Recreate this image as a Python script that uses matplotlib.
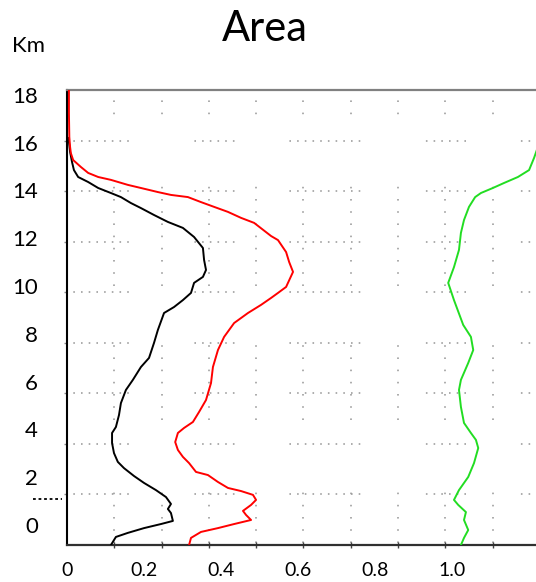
import numpy as np
import matplotlib.pyplot as plt
from matplotlib.ticker import FixedLocator

plt.rcParams['font.family'] = ['Lato', 'DejaVu Sans']
plt.rcParams['lines.scale_dashes'] = False

# ---- data (x = area fraction, y = height in km) ----
black_x = [0.114, 0.127, 0.158, 0.200, 0.244, 0.275, 0.270, 0.262, 0.270, 0.257,
           0.231, 0.200, 0.174, 0.148, 0.132, 0.122, 0.117, 0.117, 0.127, 0.135,
           0.140, 0.153, 0.171, 0.192, 0.213, 0.226, 0.236, 0.252, 0.278, 0.301,
           0.322, 0.330, 0.353, 0.361, 0.356, 0.353, 0.330, 0.301, 0.262, 0.226,
           0.192, 0.166, 0.140, 0.114, 0.081, 0.055, 0.029, 0.018, 0.013, 0.008,
           0.005, 0.003]
black_y = [-0.84, -0.50, -0.33, -0.13, 0.04, 0.17, 0.50, 0.67, 0.88, 1.17,
           1.46, 1.76, 2.05, 2.38, 2.64, 3.01, 3.43, 3.85, 4.10, 4.60,
           5.10, 5.65, 6.07, 6.61, 6.99, 7.62, 8.16, 8.87, 9.12, 9.41,
           9.71, 10.13, 10.38, 10.67, 11.09, 11.59, 12.05, 12.43, 12.68, 12.97,
           13.26, 13.47, 13.72, 13.89, 14.10, 14.35, 14.56, 14.85, 15.19, 15.61,
           16.03, 16.19]

red_x = [0.317, 0.322, 0.348, 0.392, 0.434, 0.478, 0.465, 0.457, 0.478, 0.491,
         0.483, 0.452, 0.418, 0.392, 0.366, 0.335, 0.317, 0.301, 0.288, 0.281,
         0.288, 0.304, 0.327, 0.343, 0.361, 0.374, 0.379, 0.392, 0.408, 0.434,
         0.470, 0.504, 0.530, 0.548, 0.569, 0.587, 0.577, 0.569, 0.548, 0.530,
         0.486, 0.452, 0.418, 0.382, 0.348, 0.314, 0.270, 0.236, 0.192, 0.158,
         0.114, 0.081, 0.055, 0.036, 0.016, 0.010, 0.008, 0.006, 0.005, 0.005]
red_y = [-0.84, -0.54, -0.29, -0.13, 0.04, 0.21, 0.42, 0.59, 0.84, 1.05,
         1.26, 1.42, 1.55, 1.80, 2.09, 2.22, 2.59, 2.85, 3.14, 3.47,
         3.85, 4.06, 4.31, 4.73, 5.23, 5.94, 6.61, 7.32, 7.87, 8.45,
         8.87, 9.21, 9.50, 9.71, 9.96, 10.59, 11.00, 11.42, 11.92, 12.09,
         12.64, 12.85, 13.10, 13.31, 13.51, 13.72, 13.81, 13.93, 14.10, 14.23,
         14.44, 14.56, 14.73, 14.98, 15.27, 15.56, 15.82, 16.23, 17.24, 18.20]

green_x = [1.023, 1.031, 1.042, 1.031, 1.036, 1.016, 1.005, 1.018, 1.042, 1.057,
           1.068, 1.062, 1.049, 1.031, 1.023, 1.018, 1.023, 1.042, 1.055, 1.049,
           1.029, 1.005, 0.990, 1.005, 1.018, 1.023, 1.031, 1.044, 1.060, 1.075,
           1.106, 1.135, 1.171, 1.200, 1.213, 1.223, 1.244]
green_y = [-0.84, -0.54, -0.21, 0.21, 0.54, 0.84, 1.05, 1.46, 2.01, 2.59,
           3.22, 3.56, 3.85, 4.27, 4.94, 5.65, 6.07, 6.78, 7.32, 7.87,
           8.37, 9.41, 10.13, 10.79, 11.51, 12.22, 12.76, 13.31, 13.72, 13.89,
           14.10, 14.31, 14.56, 14.85, 15.36, 15.82, 16.32]

x_ticks = [0, 0.2, 0.4, 0.6, 0.8, 1.0]
x_labels = ['0', '0.2', '0.4', '0.6', '0.8', '1.0']
y_ticks = [0, 2, 4, 6, 8, 10, 12, 14, 16, 18]

PT = 0.72  # one pixel in points at dpi 100


def dot_pattern(groups, step, dot=1.6):
    '''
    Build a dash pattern of little dots that come in groups.
    groups : list of (start in px along the line, number of dots)
    '''
    seq = []
    for i, (start, n) in enumerate(groups):
        for k in range(n):
            seq += [dot, step - dot]
        if i + 1 < len(groups):
            seq[-1] = groups[i + 1][0] - (start + (n - 1) * step) - dot
        else:
            seq[-1] = 3000
    offset = sum(seq) - groups[0][0]
    return (offset * PT, [v * PT for v in seq])


fig = plt.figure(figsize=(5.36, 5.82), dpi=100)
ax = fig.add_axes([67 / 536, 37 / 582, 469 / 536, 455 / 582])

# the three profiles
ax.plot(black_x, black_y, color='black', lw=1.4, zorder=3)
ax.plot(red_x, red_y, color='#ff0000', lw=1.4, zorder=3)
ax.plot(green_x, green_y, color='#22dd22', lw=1.4, zorder=3)

ax.set_xlim(0, 1.218)
ax.set_ylim(-0.837, 18.2)

# labels
ax.set_xticks(x_ticks)
ax.set_xticklabels(x_labels)
ax.set_yticks(y_ticks)
ax.tick_params(axis='x', which='major', length=0, pad=12, labelsize=14)
ax.tick_params(axis='y', which='major', length=0, pad=21, labelsize=16)

# the dotted grid sits on its own (minor) positions
ax.xaxis.set_minor_locator(FixedLocator(np.arange(1, 10) * 0.1228))
ax.yaxis.set_minor_locator(FixedLocator(-0.837 + 2.115 * np.arange(1, 9)))
ax.tick_params(axis='x', which='minor', direction='inout', length=4,
               width=1, color='#444444')
ax.tick_params(axis='y', which='minor', direction='out', length=2,
               width=1, color='#888888')

h_dash = dot_pattern([(0, 5), (98, 6), (193, 6), (298, 6), (403, 6)], 7.7)
v_dash = dot_pattern([(45, 5), (168, 7), (302, 6), (438, 2)], 12.2)
ax.grid(which='minor', axis='y', color='#9a9a9a', lw=1.15, linestyle=h_dash)
ax.grid(which='minor', axis='x', color='#9a9a9a', lw=1.15, linestyle=v_dash)

# spines
ax.spines['right'].set_visible(False)
ax.spines['top'].set_color('#808080')
ax.spines['top'].set_linewidth(1.6)
ax.spines['left'].set_color('black')
ax.spines['left'].set_linewidth(1.5)
ax.spines['bottom'].set_color('#303030')
ax.spines['bottom'].set_linewidth(1.6)

# small dashed mark left of the axis
ax.plot([-0.088, -0.012], [1.09, 1.09], color='black', lw=1.3,
        linestyle=(0, (2, 2)), clip_on=False)

fig.text(265 / 536, 1 - 29 / 582, 'Area', ha='center', va='center', fontsize=30)
fig.text(28 / 536, 1 - 46 / 582, 'Km', ha='center', va='center', fontsize=16)

plt.savefig('out.png', dpi=100)
